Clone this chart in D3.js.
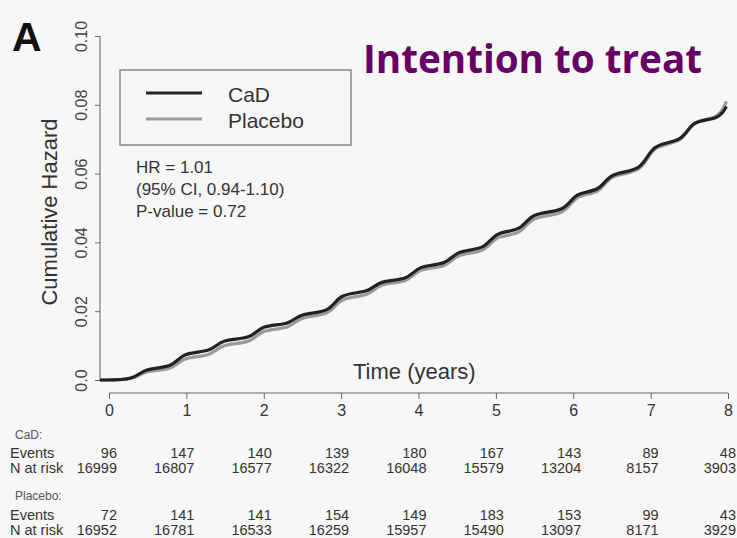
<!DOCTYPE html>
<html>
<head>
<meta charset="utf-8">
<script src="https://cdn.jsdelivr.net/npm/d3@7"></script>
<style>
  body { margin: 0; background: #f7f7f7; }
  svg { display: block; }
</style>
</head>
<body>
<svg id="chart" width="737" height="538"></svg>
<script>
// risk table
const years = [0, 1, 2, 3, 4, 5, 6, 7, 8];
const cadEvents = [96, 147, 140, 139, 180, 167, 143, 89, 48];
const cadRisk = [16999, 16807, 16577, 16322, 16048, 15579, 13204, 8157, 3903];
const placeboEvents = [72, 141, 141, 154, 149, 183, 153, 99, 43];
const placeboRisk = [16952, 16781, 16533, 16259, 15957, 15490, 13097, 8171, 3929];

// cumulative hazard (jump times in years, level after each jump)
const jumpTimes = [0.5, 0.99, 1.48, 1.99, 2.48, 2.99, 3.49, 3.99, 4.48, 4.97, 5.43, 5.99, 6.43, 6.97, 7.48, 7.93];
const cadHazard = [0.0035, 0.0081, 0.0119, 0.016, 0.0195, 0.0253, 0.029, 0.0334, 0.0378, 0.0432, 0.0488, 0.0547, 0.0605, 0.069, 0.0756, 0.0795];
const placeboHazard = [0.0028, 0.0068, 0.0106, 0.0148, 0.0186, 0.0242, 0.0282, 0.0326, 0.0369, 0.0421, 0.0478, 0.054, 0.06, 0.0686, 0.0757, 0.081];
const yTicks = [0, 0.02, 0.04, 0.06, 0.08, 0.1];

const svg = d3.select("#chart");
const font = "'Liberation Sans', Arial, sans-serif";

svg.append("rect").attr("width", 737).attr("height", 538).attr("fill", "#f7f7f7");

const x = d3.scaleLinear().domain([0, 8]).range([100, 728]);
const y = d3.scaleLinear().domain([0, 0.1]).range([380, 36]);
const xTab = d3.scaleLinear().domain([0, 8]).range([109, 728]);

// y axis
const yAxis = svg.append("g")
  .attr("transform", "translate(100,0)")
  .call(d3.axisLeft(y).tickValues(yTicks).tickSize(5).tickFormat(d => d === 0 ? "0.0" : d3.format(".2f")(d)));
yAxis.select(".domain").attr("stroke", "#666").attr("d", "M0," + y(0) + "V" + y(0.1));
yAxis.selectAll(".tick line").attr("stroke", "#666");
yAxis.selectAll(".tick text")
  .attr("font-family", font).attr("font-size", 16).attr("fill", "#444")
  .attr("transform", "rotate(-90)")
  .attr("x", 0).attr("y", -13).attr("dy", 0)
  .attr("text-anchor", "middle");

svg.append("text")
  .attr("transform", "translate(57,212) rotate(-90)")
  .attr("text-anchor", "middle")
  .attr("font-family", font).attr("font-size", 22).attr("fill", "#333")
  .text("Cumulative Hazard");

// curves
function stepPoints(levels) {
  const pts = [[0, 0]];
  let prev = 0;
  jumpTimes.forEach((t, i) => {
    pts.push([t - 0.05, prev]);
    pts.push([t + 0.05, levels[i]]);
    prev = levels[i];
  });
  return pts;
}
const line = d3.line().x(d => x(d[0])).y(d => y(d[1])).curve(d3.curveBasis);

svg.append("path").datum(stepPoints(placeboHazard))
  .attr("d", line).attr("fill", "none")
  .attr("stroke", "#9a9a9a").attr("stroke-width", 3.2);
svg.append("path").datum(stepPoints(cadHazard))
  .attr("d", line).attr("fill", "none")
  .attr("stroke", "#222").attr("stroke-width", 3.2);

// legend
svg.append("rect").attr("x", 120).attr("y", 70).attr("width", 231).attr("height", 75)
  .attr("fill", "none").attr("stroke", "#888").attr("stroke-width", 1.5);
const legend = [["CaD", "#222", 102], ["Placebo", "#9a9a9a", 128]];
legend.forEach(([name, color, by]) => {
  svg.append("line").attr("x1", 146).attr("x2", 202).attr("y1", by - 9).attr("y2", by - 9)
    .attr("stroke", color).attr("stroke-width", 3.2);
  svg.append("text").attr("x", 228).attr("y", by)
    .attr("font-family", font).attr("font-size", 21).attr("fill", "#333").text(name);
});

// stats
["HR = 1.01", "(95% CI, 0.94-1.10)", "P-value = 0.72"].forEach((s, i) => {
  svg.append("text").attr("x", 136).attr("y", 173 + i * 22)
    .attr("font-family", font).attr("font-size", 17).attr("fill", "#333").text(s);
});

// panel letter and title
svg.append("text").attr("x", 12).attr("y", 51)
  .attr("font-family", font).attr("font-weight", "bold").attr("font-size", 41).attr("fill", "#111").text("A");
svg.append("text").attr("x", 363).attr("y", 73)
  .attr("font-family", "'Open Sans', sans-serif").attr("font-weight", "bold").attr("font-size", 40)
  .attr("textLength", 339).attr("lengthAdjust", "spacingAndGlyphs")
  .attr("fill", "#660066").text("Intention to treat");

svg.append("text").attr("x", 353).attr("y", 379)
  .attr("font-family", font).attr("font-size", 22).attr("fill", "#333").text("Time (years)");

// table axis
const xAxis = svg.append("g")
  .attr("transform", "translate(0,393)")
  .call(d3.axisBottom(xTab).tickValues(years).tickSize(6).tickFormat(d3.format("d")));
xAxis.select(".domain").attr("stroke", "#666").attr("d", "M" + xTab(0) + ",0H" + xTab(8));
xAxis.selectAll(".tick line").attr("stroke", "#666");
xAxis.selectAll(".tick text")
  .attr("font-family", font).attr("font-size", 16).attr("fill", "#333").attr("y", 12);

// risk table
const rows = [
  ["CaD:", null, 439, true],
  ["Events", cadEvents, 458],
  ["N at risk", cadRisk, 473],
  ["Placebo:", null, 500, true],
  ["Events", placeboEvents, 520],
  ["N at risk", placeboRisk, 535]
];
rows.forEach(([label, vals, by, head]) => {
  svg.append("text").attr("x", head ? 15 : 10).attr("y", by)
    .attr("font-family", font).attr("font-size", head ? 12 : 14.5)
    .attr("fill", head ? "#555" : "#333").text(label);
  if (vals) {
    svg.append("g").selectAll("text").data(vals).join("text")
      .attr("x", (d, i) => xTab(years[i]) + 8).attr("y", by)
      .attr("text-anchor", "end")
      .attr("font-family", font).attr("font-size", 14.5).attr("fill", "#333")
      .text(d => d);
  }
});
</script>
</body>
</html>
